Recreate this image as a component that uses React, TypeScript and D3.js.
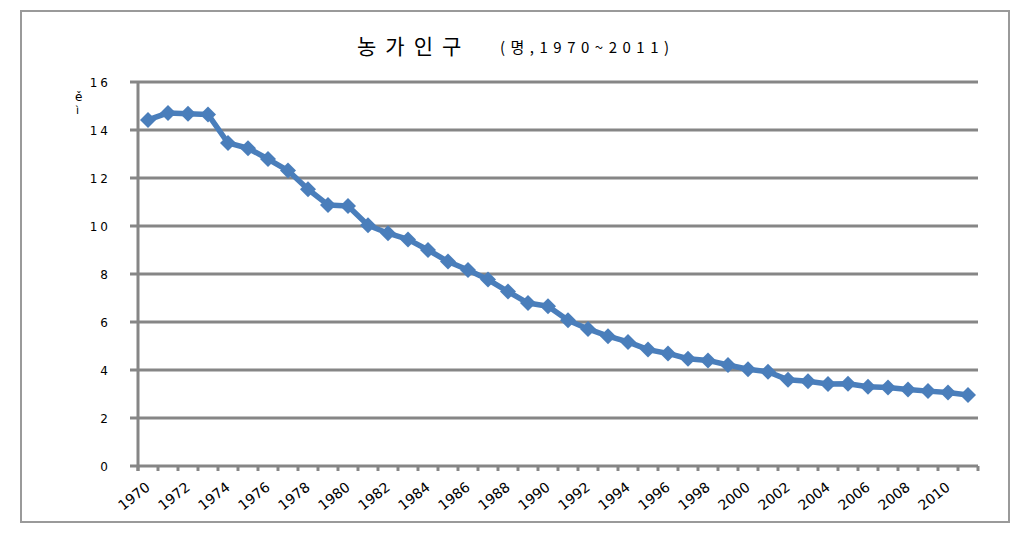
import React from "react";
import * as d3 from "d3";

const years: number[] = d3.range(1970, 2012);
const values: number[] = [
  14.42, 14.71, 14.68, 14.65, 13.46, 13.24, 12.79, 12.31, 11.53, 10.88,
  10.83, 10.03, 9.7, 9.44, 9.0, 8.52, 8.17, 7.77, 7.27, 6.79,
  6.66, 6.07, 5.71, 5.41, 5.17, 4.85, 4.69, 4.47, 4.4, 4.21,
  4.03, 3.93, 3.59, 3.53, 3.42, 3.43, 3.3, 3.27, 3.19, 3.12,
  3.06, 2.96,
];
const yTicks: number[] = [0, 2, 4, 6, 8, 10, 12, 14, 16];
const xLabelYears: number[] = years.filter((y) => (y - 1970) % 2 === 0);

const W = 1026;
const H = 536;
const left = 138;
const right = 978;
const top = 82;
const bottom = 466;

export default function App() {
  const x = d3
    .scaleBand<number>()
    .domain(years)
    .range([left, right])
    .padding(0);
  const y = d3.scaleLinear().domain([0, 16]).range([bottom, top]);
  const cx = (yr: number) => (x(yr) as number) + x.bandwidth() / 2;

  const line = d3
    .line<number>()
    .x((_, i) => cx(years[i]))
    .y((d) => y(d));

  const diamond = (px: number, py: number) => {
    const r = 8;
    return `M${px},${py - r}L${px + r},${py}L${px},${py + r}L${px - r},${py}Z`;
  };

  const grey = "#868686";
  const blue = "#4a7ebb";

  return (
    <svg
      width={W}
      height={H}
      style={{ position: "absolute", left: 0, top: 0, background: "#fff" }}
    >
      <rect x={0} y={0} width={W} height={H} fill="#fff" />
      <rect
        x={21}
        y={11}
        width={988}
        height={511}
        fill="#fff"
        stroke="#9a9a9a"
        strokeWidth={2}
      />
      {/* title */}
      <text
        x={357}
        y={54}
        fontFamily="'Noto Sans CJK KR', sans-serif"
        fontSize={21}
        fill="#000"
        letterSpacing={9}
      >
        농가인구
      </text>
      <text
        x={500}
        y={53}
        fontFamily="'Noto Sans CJK KR', 'DejaVu Sans', sans-serif"
        fontSize={15}
        fill="#000"
        letterSpacing={5.5}
      >
        (명,1970~2011)
      </text>
      {/* y unit label (garbled) */}
      <text
        x={75}
        y={101}
        fontFamily="'DejaVu Sans', sans-serif"
        fontSize={12}
        fill="#000"
      >
        ě
      </text>
      <text
        x={76}
        y={114}
        fontFamily="'DejaVu Sans', sans-serif"
        fontSize={11}
        fill="#000"
      >
        ì
      </text>
      {/* gridlines */}
      {yTicks.map((t) => (
        <line
          key={"g" + t}
          x1={130}
          x2={right}
          y1={y(t)}
          y2={y(t)}
          stroke={grey}
          strokeWidth={3}
        />
      ))}
      {/* y axis */}
      <line x1={left} x2={left} y1={top - 1} y2={bottom + 5} stroke={grey} strokeWidth={3} />
      {yTicks.map((t) => (
        <text
          key={"yl" + t}
          x={111}
          y={y(t) + 5}
          textAnchor="end"
          fontFamily="'DejaVu Sans', sans-serif"
          fontSize={12}
          letterSpacing={3}
          fill="#000"
        >
          {String(t)}
        </text>
      ))}
      {/* x axis ticks */}
      {years.concat([2012]).map((yr, i) => {
        const px = left + i * x.step();
        return (
          <line
            key={"xt" + yr}
            x1={px}
            x2={px}
            y1={bottom}
            y2={bottom + 5}
            stroke={grey}
            strokeWidth={3}
          />
        );
      })}
      {xLabelYears.map((yr) => (
        <text
          key={"xl" + yr}
          transform={`translate(${cx(yr) + 3},${bottom + 23}) rotate(-38)`}
          textAnchor="end"
          fontFamily="'DejaVu Sans', sans-serif"
          fontSize={14}
          fill="#000"
        >
          {yr}
        </text>
      ))}
      {/* series */}
      <path
        d={line(values) || ""}
        fill="none"
        stroke={blue}
        strokeWidth={5.5}
        strokeLinejoin="round"
      />
      {values.map((v, i) => (
        <path key={"m" + i} d={diamond(cx(years[i]), y(v))} fill={blue} />
      ))}
    </svg>
  );
}
